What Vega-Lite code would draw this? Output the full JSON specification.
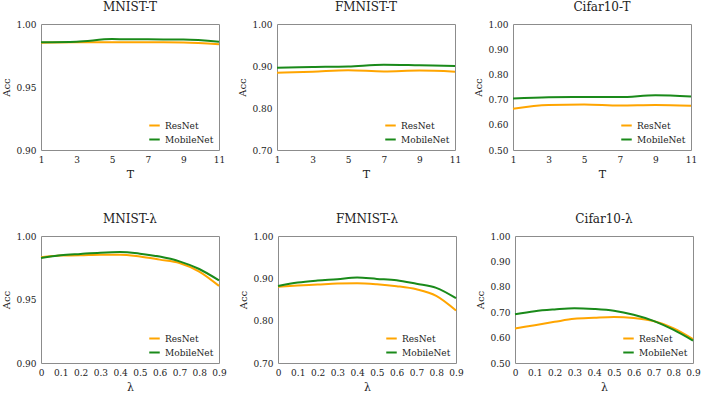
{
  "$schema": "https://vega.github.io/schema/vega-lite/v6.json",
  "padding": {"left": 1, "top": 0, "right": 5, "bottom": 0},
  "background": "white",
  "config": {
    "font": "DejaVu Serif",
    "view": {"stroke": "#8c8c8c", "strokeWidth": 1},
    "axis": {"domain": false, "grid": false, "ticks": false, "labelFont": "DejaVu Serif", "labelFontSize": 9, "labelColor": "#222", "labelOverlap": false, "labelFlush": false, "titleFont": "DejaVu Serif", "titleFontSize": 10, "titleFontWeight": "normal", "titleColor": "#222", "labelPadding": 5, "titlePadding": 4},
    "title": {"font": "DejaVu Serif", "fontSize": 12, "fontWeight": "normal", "color": "#222", "offset": 6},
    "legend": {"orient": "bottom-right", "title": null, "symbolType": "stroke", "symbolStrokeWidth": 2, "symbolSize": 110, "labelFont": "DejaVu Serif", "labelFontSize": 9, "labelColor": "#222", "rowPadding": 2, "offset": 5, "padding": 0},
    "line": {"strokeWidth": 2, "interpolate": "monotone"}
  },
  "datasets": {
    "d": [
      {"panel": "MNIST-T", "x": 1, "model": "ResNet", "acc": 0.9852},
      {"panel": "MNIST-T", "x": 3, "model": "ResNet", "acc": 0.9855},
      {"panel": "MNIST-T", "x": 5, "model": "ResNet", "acc": 0.9855},
      {"panel": "MNIST-T", "x": 7, "model": "ResNet", "acc": 0.9855},
      {"panel": "MNIST-T", "x": 9, "model": "ResNet", "acc": 0.9854},
      {"panel": "MNIST-T", "x": 11, "model": "ResNet", "acc": 0.9840},
      {"panel": "MNIST-T", "x": 1, "model": "MobileNet", "acc": 0.9856},
      {"panel": "MNIST-T", "x": 3, "model": "MobileNet", "acc": 0.9860},
      {"panel": "MNIST-T", "x": 5, "model": "MobileNet", "acc": 0.9880},
      {"panel": "MNIST-T", "x": 7, "model": "MobileNet", "acc": 0.9878},
      {"panel": "MNIST-T", "x": 9, "model": "MobileNet", "acc": 0.9876},
      {"panel": "MNIST-T", "x": 11, "model": "MobileNet", "acc": 0.9860},
      {"panel": "FMNIST-T", "x": 1, "model": "ResNet", "acc": 0.884},
      {"panel": "FMNIST-T", "x": 3, "model": "ResNet", "acc": 0.8865},
      {"panel": "FMNIST-T", "x": 5, "model": "ResNet", "acc": 0.890},
      {"panel": "FMNIST-T", "x": 7, "model": "ResNet", "acc": 0.887},
      {"panel": "FMNIST-T", "x": 9, "model": "ResNet", "acc": 0.889},
      {"panel": "FMNIST-T", "x": 11, "model": "ResNet", "acc": 0.8865},
      {"panel": "FMNIST-T", "x": 1, "model": "MobileNet", "acc": 0.896},
      {"panel": "FMNIST-T", "x": 3, "model": "MobileNet", "acc": 0.8976},
      {"panel": "FMNIST-T", "x": 5, "model": "MobileNet", "acc": 0.899},
      {"panel": "FMNIST-T", "x": 7, "model": "MobileNet", "acc": 0.903},
      {"panel": "FMNIST-T", "x": 9, "model": "MobileNet", "acc": 0.9016},
      {"panel": "FMNIST-T", "x": 11, "model": "MobileNet", "acc": 0.900},
      {"panel": "Cifar10-T", "x": 1, "model": "ResNet", "acc": 0.664},
      {"panel": "Cifar10-T", "x": 3, "model": "ResNet", "acc": 0.679},
      {"panel": "Cifar10-T", "x": 5, "model": "ResNet", "acc": 0.681},
      {"panel": "Cifar10-T", "x": 7, "model": "ResNet", "acc": 0.677},
      {"panel": "Cifar10-T", "x": 9, "model": "ResNet", "acc": 0.679},
      {"panel": "Cifar10-T", "x": 11, "model": "ResNet", "acc": 0.676},
      {"panel": "Cifar10-T", "x": 1, "model": "MobileNet", "acc": 0.704},
      {"panel": "Cifar10-T", "x": 3, "model": "MobileNet", "acc": 0.709},
      {"panel": "Cifar10-T", "x": 5, "model": "MobileNet", "acc": 0.710},
      {"panel": "Cifar10-T", "x": 7, "model": "MobileNet", "acc": 0.710},
      {"panel": "Cifar10-T", "x": 9, "model": "MobileNet", "acc": 0.717},
      {"panel": "Cifar10-T", "x": 11, "model": "MobileNet", "acc": 0.712},
      {"panel": "MNIST-λ", "x": 0, "model": "ResNet", "acc": 0.9832},
      {"panel": "MNIST-λ", "x": 0.1, "model": "ResNet", "acc": 0.9846},
      {"panel": "MNIST-λ", "x": 0.2, "model": "ResNet", "acc": 0.9848},
      {"panel": "MNIST-λ", "x": 0.3, "model": "ResNet", "acc": 0.9853},
      {"panel": "MNIST-λ", "x": 0.4, "model": "ResNet", "acc": 0.9853},
      {"panel": "MNIST-λ", "x": 0.5, "model": "ResNet", "acc": 0.9838},
      {"panel": "MNIST-λ", "x": 0.6, "model": "ResNet", "acc": 0.9814},
      {"panel": "MNIST-λ", "x": 0.7, "model": "ResNet", "acc": 0.9788},
      {"panel": "MNIST-λ", "x": 0.8, "model": "ResNet", "acc": 0.972},
      {"panel": "MNIST-λ", "x": 0.9, "model": "ResNet", "acc": 0.9607},
      {"panel": "MNIST-λ", "x": 0, "model": "MobileNet", "acc": 0.9827},
      {"panel": "MNIST-λ", "x": 0.1, "model": "MobileNet", "acc": 0.9848},
      {"panel": "MNIST-λ", "x": 0.2, "model": "MobileNet", "acc": 0.9859},
      {"panel": "MNIST-λ", "x": 0.3, "model": "MobileNet", "acc": 0.9869},
      {"panel": "MNIST-λ", "x": 0.4, "model": "MobileNet", "acc": 0.9874},
      {"panel": "MNIST-λ", "x": 0.5, "model": "MobileNet", "acc": 0.9861},
      {"panel": "MNIST-λ", "x": 0.6, "model": "MobileNet", "acc": 0.9838},
      {"panel": "MNIST-λ", "x": 0.7, "model": "MobileNet", "acc": 0.980},
      {"panel": "MNIST-λ", "x": 0.8, "model": "MobileNet", "acc": 0.974},
      {"panel": "MNIST-λ", "x": 0.9, "model": "MobileNet", "acc": 0.965},
      {"panel": "FMNIST-λ", "x": 0, "model": "ResNet", "acc": 0.880},
      {"panel": "FMNIST-λ", "x": 0.1, "model": "ResNet", "acc": 0.883},
      {"panel": "FMNIST-λ", "x": 0.2, "model": "ResNet", "acc": 0.8853},
      {"panel": "FMNIST-λ", "x": 0.3, "model": "ResNet", "acc": 0.8877},
      {"panel": "FMNIST-λ", "x": 0.4, "model": "ResNet", "acc": 0.8884},
      {"panel": "FMNIST-λ", "x": 0.5, "model": "ResNet", "acc": 0.886},
      {"panel": "FMNIST-λ", "x": 0.6, "model": "ResNet", "acc": 0.8814},
      {"panel": "FMNIST-λ", "x": 0.7, "model": "ResNet", "acc": 0.874},
      {"panel": "FMNIST-λ", "x": 0.8, "model": "ResNet", "acc": 0.8586},
      {"panel": "FMNIST-λ", "x": 0.9, "model": "ResNet", "acc": 0.824},
      {"panel": "FMNIST-λ", "x": 0, "model": "MobileNet", "acc": 0.882},
      {"panel": "FMNIST-λ", "x": 0.1, "model": "MobileNet", "acc": 0.890},
      {"panel": "FMNIST-λ", "x": 0.2, "model": "MobileNet", "acc": 0.8947},
      {"panel": "FMNIST-λ", "x": 0.3, "model": "MobileNet", "acc": 0.898},
      {"panel": "FMNIST-λ", "x": 0.4, "model": "MobileNet", "acc": 0.902},
      {"panel": "FMNIST-λ", "x": 0.5, "model": "MobileNet", "acc": 0.8986},
      {"panel": "FMNIST-λ", "x": 0.6, "model": "MobileNet", "acc": 0.8955},
      {"panel": "FMNIST-λ", "x": 0.7, "model": "MobileNet", "acc": 0.887},
      {"panel": "FMNIST-λ", "x": 0.8, "model": "MobileNet", "acc": 0.8775},
      {"panel": "FMNIST-λ", "x": 0.9, "model": "MobileNet", "acc": 0.853},
      {"panel": "Cifar10-λ", "x": 0, "model": "ResNet", "acc": 0.636},
      {"panel": "Cifar10-λ", "x": 0.1, "model": "ResNet", "acc": 0.649},
      {"panel": "Cifar10-λ", "x": 0.2, "model": "ResNet", "acc": 0.662},
      {"panel": "Cifar10-λ", "x": 0.3, "model": "ResNet", "acc": 0.674},
      {"panel": "Cifar10-λ", "x": 0.4, "model": "ResNet", "acc": 0.678},
      {"panel": "Cifar10-λ", "x": 0.5, "model": "ResNet", "acc": 0.681},
      {"panel": "Cifar10-λ", "x": 0.6, "model": "ResNet", "acc": 0.677},
      {"panel": "Cifar10-λ", "x": 0.7, "model": "ResNet", "acc": 0.665},
      {"panel": "Cifar10-λ", "x": 0.8, "model": "ResNet", "acc": 0.637},
      {"panel": "Cifar10-λ", "x": 0.9, "model": "ResNet", "acc": 0.594},
      {"panel": "Cifar10-λ", "x": 0, "model": "MobileNet", "acc": 0.692},
      {"panel": "Cifar10-λ", "x": 0.1, "model": "MobileNet", "acc": 0.704},
      {"panel": "Cifar10-λ", "x": 0.2, "model": "MobileNet", "acc": 0.711},
      {"panel": "Cifar10-λ", "x": 0.3, "model": "MobileNet", "acc": 0.716},
      {"panel": "Cifar10-λ", "x": 0.4, "model": "MobileNet", "acc": 0.713},
      {"panel": "Cifar10-λ", "x": 0.5, "model": "MobileNet", "acc": 0.706},
      {"panel": "Cifar10-λ", "x": 0.6, "model": "MobileNet", "acc": 0.690},
      {"panel": "Cifar10-λ", "x": 0.7, "model": "MobileNet", "acc": 0.666},
      {"panel": "Cifar10-λ", "x": 0.8, "model": "MobileNet", "acc": 0.631},
      {"panel": "Cifar10-λ", "x": 0.9, "model": "MobileNet", "acc": 0.588}
    ]
  },
  "resolve": {"legend": {"color": "independent"}},
  "spacing": 32,
  "vconcat": [
    {
      "resolve": {"legend": {"color": "independent"}},
      "spacing": 11,
      "hconcat": [
        {
          "title": {"text": "MNIST-T", "fontWeight": "normal"}, "width": 178, "height": 126,
          "data": {"name": "d"},
          "transform": [{"filter": "datum.panel == 'MNIST-T'"}],
          "mark": "line",
          "encoding": {
            "x": {"field": "x", "type": "quantitative", "title": "T", "scale": {"domain": [1, 11], "nice": false}, "axis": {"values": [1, 3, 5, 7, 9, 11], "titleFontSize": 11}},
            "y": {"field": "acc", "type": "quantitative", "title": "Acc", "scale": {"domain": [0.9, 1.0], "nice": false, "zero": false}, "axis": {"values": [0.9, 0.95, 1.0], "format": ".2f"}},
            "color": {"field": "model", "type": "nominal", "scale": {"domain": ["ResNet", "MobileNet"], "range": ["#FFA500", "#1A8A1A"]}}
          }
        },
        {
          "title": {"text": "FMNIST-T", "fontWeight": "normal"}, "width": 178, "height": 126,
          "data": {"name": "d"},
          "transform": [{"filter": "datum.panel == 'FMNIST-T'"}],
          "mark": "line",
          "encoding": {
            "x": {"field": "x", "type": "quantitative", "title": "T", "scale": {"domain": [1, 11], "nice": false}, "axis": {"values": [1, 3, 5, 7, 9, 11], "titleFontSize": 11}},
            "y": {"field": "acc", "type": "quantitative", "title": "Acc", "scale": {"domain": [0.7, 1.0], "nice": false, "zero": false}, "axis": {"values": [0.7, 0.8, 0.9, 1.0], "format": ".2f"}},
            "color": {"field": "model", "type": "nominal", "scale": {"domain": ["ResNet", "MobileNet"], "range": ["#FFA500", "#1A8A1A"]}}
          }
        },
        {
          "title": {"text": "Cifar10-T", "fontWeight": "normal"}, "width": 178, "height": 126,
          "data": {"name": "d"},
          "transform": [{"filter": "datum.panel == 'Cifar10-T'"}],
          "mark": "line",
          "encoding": {
            "x": {"field": "x", "type": "quantitative", "title": "T", "scale": {"domain": [1, 11], "nice": false}, "axis": {"values": [1, 3, 5, 7, 9, 11], "titleFontSize": 11}},
            "y": {"field": "acc", "type": "quantitative", "title": "Acc", "scale": {"domain": [0.5, 1.0], "nice": false, "zero": false}, "axis": {"values": [0.5, 0.6, 0.7, 0.8, 0.9, 1.0], "format": ".2f"}},
            "color": {"field": "model", "type": "nominal", "scale": {"domain": ["ResNet", "MobileNet"], "range": ["#FFA500", "#1A8A1A"]}}
          }
        }
      ]
    },
    {
      "resolve": {"legend": {"color": "independent"}},
      "spacing": 11,
      "hconcat": [
        {
          "title": {"text": "MNIST-λ", "fontWeight": "normal"}, "width": 178, "height": 127,
          "data": {"name": "d"},
          "transform": [{"filter": "datum.panel == 'MNIST-λ'"}],
          "mark": "line",
          "encoding": {
            "x": {"field": "x", "type": "quantitative", "title": "λ", "scale": {"domain": [0, 0.9], "nice": false}, "axis": {"values": [0, 0.1, 0.2, 0.3, 0.4, 0.5, 0.6, 0.7, 0.8, 0.9], "format": "~g", "titleFontSize": 11}},
            "y": {"field": "acc", "type": "quantitative", "title": "Acc", "scale": {"domain": [0.9, 1.0], "nice": false, "zero": false}, "axis": {"values": [0.9, 0.95, 1.0], "format": ".2f"}},
            "color": {"field": "model", "type": "nominal", "scale": {"domain": ["ResNet", "MobileNet"], "range": ["#FFA500", "#1A8A1A"]}}
          }
        },
        {
          "title": {"text": "FMNIST-λ", "fontWeight": "normal"}, "width": 178, "height": 127,
          "data": {"name": "d"},
          "transform": [{"filter": "datum.panel == 'FMNIST-λ'"}],
          "mark": "line",
          "encoding": {
            "x": {"field": "x", "type": "quantitative", "title": "λ", "scale": {"domain": [0, 0.9], "nice": false}, "axis": {"values": [0, 0.1, 0.2, 0.3, 0.4, 0.5, 0.6, 0.7, 0.8, 0.9], "format": "~g", "titleFontSize": 11}},
            "y": {"field": "acc", "type": "quantitative", "title": "Acc", "scale": {"domain": [0.7, 1.0], "nice": false, "zero": false}, "axis": {"values": [0.7, 0.8, 0.9, 1.0], "format": ".2f"}},
            "color": {"field": "model", "type": "nominal", "scale": {"domain": ["ResNet", "MobileNet"], "range": ["#FFA500", "#1A8A1A"]}}
          }
        },
        {
          "title": {"text": "Cifar10-λ", "fontWeight": "normal"}, "width": 178, "height": 127,
          "data": {"name": "d"},
          "transform": [{"filter": "datum.panel == 'Cifar10-λ'"}],
          "mark": "line",
          "encoding": {
            "x": {"field": "x", "type": "quantitative", "title": "λ", "scale": {"domain": [0, 0.9], "nice": false}, "axis": {"values": [0, 0.1, 0.2, 0.3, 0.4, 0.5, 0.6, 0.7, 0.8, 0.9], "format": "~g", "titleFontSize": 11}},
            "y": {"field": "acc", "type": "quantitative", "title": "Acc", "scale": {"domain": [0.5, 1.0], "nice": false, "zero": false}, "axis": {"values": [0.5, 0.6, 0.7, 0.8, 0.9, 1.0], "format": ".2f"}},
            "color": {"field": "model", "type": "nominal", "scale": {"domain": ["ResNet", "MobileNet"], "range": ["#FFA500", "#1A8A1A"]}}
          }
        }
      ]
    }
  ]
}
